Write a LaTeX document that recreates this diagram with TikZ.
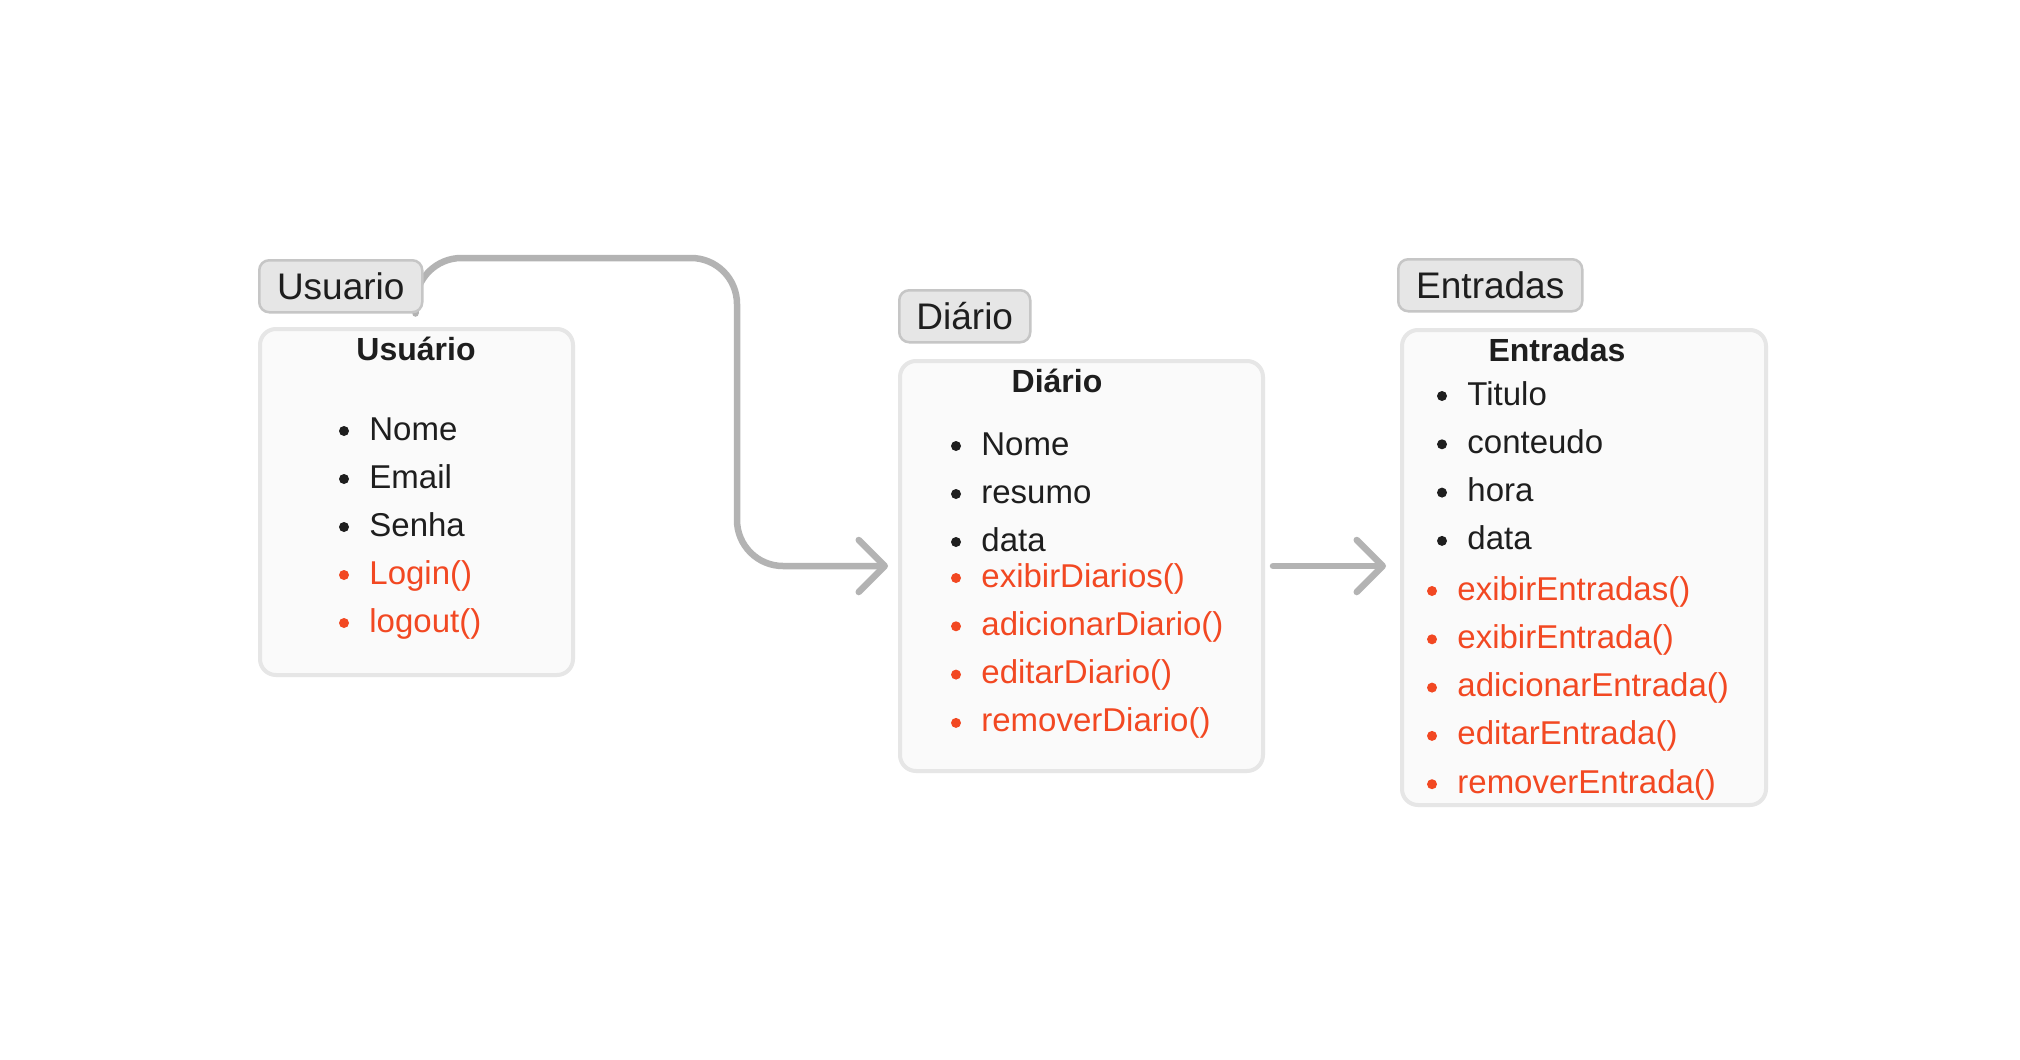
\documentclass[tikz,border=0pt]{standalone}
\usepackage{fontspec}
\setmainfont{Liberation Sans}
\usetikzlibrary{arrows.meta,backgrounds}
\definecolor{ink}{HTML}{1E1E1E}
\definecolor{vermelho}{HTML}{F24822}
\definecolor{seta}{HTML}{B3B3B3}
\definecolor{caixa}{HTML}{FAFAFA}
\definecolor{borda}{HTML}{E6E6E6}
\definecolor{rotulo}{HTML}{E6E6E6}
\definecolor{rotuloborda}{HTML}{C6C6C6}
\begin{document}
\begin{tikzpicture}[x=.5pt, y=-.5pt, inner sep=0pt,
    box/.style={draw=borda, fill=caixa, line width=2pt, rounded corners=8pt, anchor=north west},
    tag/.style={draw=rotuloborda, fill=rotulo, line width=1.25pt, rounded corners=5pt, anchor=north west,
      minimum height=26pt, font=\fontsize{18.5}{22}\selectfont, text=ink},
    titulo/.style={anchor=base, font=\fontsize{16}{19}\selectfont\bfseries, text=ink},
    attr/.style={anchor=base west, font=\fontsize{16.5}{19}\selectfont, text=ink},
    met/.style={attr, text=vermelho},
    conn/.style={draw=seta, line width=3.25pt, line cap=round, line join=round,
      -{Straight Barb[length=13pt, width=26pt, round]}}]
  % Usuario
  \node[tag, minimum width=81.5pt] (ulabel) at (258,259) {Usuario};
  \node[box, minimum width=156.5pt, minimum height=173pt] (ubox) at (258,327) {};
  \node[titulo] (ut) at (416,360) {Usuário};
  \foreach \t [count=\i] in {Nome,Email,Senha} {
    \node[attr] (u\i) at (369,{440+48*(\i-1)}) {\t};
    \fill[ink] (344,{431+48*(\i-1)}) circle (5);
  }
  \foreach \t [count=\i from 4] in {Login(),logout()} {
    \node[met] (u\i) at (369,{440+48*(\i-1)}) {\t};
    \fill[vermelho] (344,{431+48*(\i-1)}) circle (5);
  }
  % Diario
  \node[tag, minimum width=65.5pt] (dlabel) at (898,289) {Diário};
  \node[box, minimum width=181.5pt, minimum height=205pt] (dbox) at (898,359) {};
  \node[titulo] (dt) at (1057,392) {Diário};
  \foreach \t [count=\i] in {Nome,resumo,data} {
    \node[attr] (d\i) at (981,{455+48*(\i-1)}) {\t};
    \fill[ink] (956,{446+48*(\i-1)}) circle (5);
  }
  \foreach \t [count=\i from 4] in {exibirDiarios(),adicionarDiario(),editarDiario(),removerDiario()} {
    \node[met] (d\i) at (981,{587+48.3*(\i-4)}) {\t};
    \fill[vermelho] (956,{578+48.3*(\i-4)}) circle (5);
  }
  % Entradas
  \node[tag, minimum width=92pt] (elabel) at (1397,258) {Entradas};
  \node[box, minimum width=182pt, minimum height=237.5pt] (ebox) at (1400,328) {};
  \node[titulo] (et) at (1557,361) {Entradas};
  \foreach \t [count=\i] in {Titulo,conteudo,hora,data} {
    \node[attr] (e\i) at (1467,{405+48.3*(\i-1)}) {\t};
    \fill[ink] (1442,{396+48.3*(\i-1)}) circle (5);
  }
  \foreach \t [count=\i from 5] in {exibirEntradas(),exibirEntrada(),adicionarEntrada(),editarEntrada(),removerEntrada()} {
    \node[met] (e\i) at (1457,{600+48.3*(\i-5)}) {\t};
    \fill[vermelho] (1432,{591+48.3*(\i-5)}) circle (5);
  }
  % setas
  \coordinate (dobra) at (737,258);
  \begin{scope}[on background layer]
    \fill[white] (0,0) rectangle (2020,1060);
    \draw[conn, rounded corners=23pt] ([xshift=-4pt]ulabel.south east) |- (dobra) |- ([xshift=-5pt]dbox.west);
  \end{scope}
  \draw[conn] ([xshift=4pt]dbox.east) -- ([xshift=-7pt]ebox.west |- dbox.east);
\end{tikzpicture}
\end{document}
